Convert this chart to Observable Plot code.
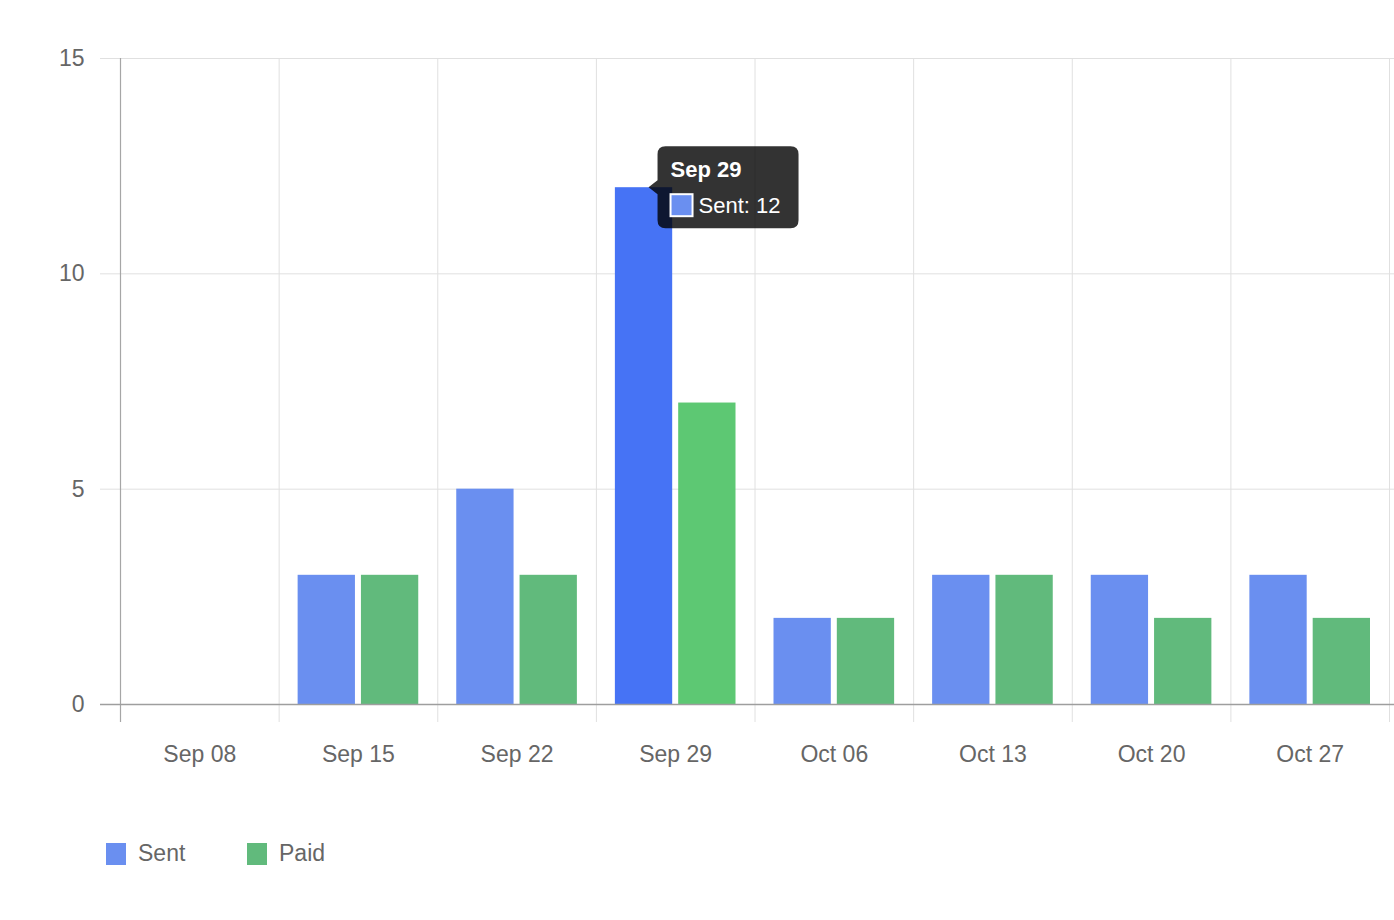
<!DOCTYPE html>
<html>
<head>
<meta charset="utf-8">
<script src="https://cdn.jsdelivr.net/npm/d3@7"></script>
<script src="https://cdn.jsdelivr.net/npm/@observablehq/plot@0.6"></script>
<style>
  html, body { margin: 0; padding: 0; background: #fff; }
  body { font-family: "Liberation Sans", Arial, Helvetica, sans-serif; }
  #legend { display: flex; padding-left: 106px; padding-top: 40px; font-size: 23px; color: #666; }
  .item { width: 141px; display: flex; align-items: center; }
  .sw { width: 20px; height: 22px; margin-right: 12px; }
</style>
</head>
<body>
<div id="chart"></div>
<div id="legend"></div>
<script>
const dates = ["Sep 08", "Sep 15", "Sep 22", "Sep 29", "Oct 06", "Oct 13", "Oct 20", "Oct 27"];
const sent = [0, 3, 5, 12, 2, 3, 3, 3];
const paid = [0, 3, 3, 7, 2, 3, 2, 2];
const yTicks = [0, 5, 10, 15];
const series = ["Sent", "Paid"];
const colors = {Sent: "#6A8FF0", Paid: "#61BA7C"};
const hoverColors = {Sent: "#4673F5", Paid: "#5DC873"};
const hovered = 3;

const rows = (vals) => dates.map((d, i) => ({i, date: d, value: vals[i]}));
const sentRows = rows(sent);
const paidRows = rows(paid);

const W = 1394, H = 800, ML = 120, MR = 5, MT = 58, MB = 96;
const band = (W - ML - MR) / dates.length;
const pad = 19, gap = 6;
const barW = (band - 2 * pad - gap) / 2;
const grid = "#e0e0e0";
const fontSize = 23;

const chart = Plot.plot({
  width: W, height: H,
  marginLeft: ML, marginRight: MR, marginTop: MT, marginBottom: MB,
  style: {fontFamily: '"Liberation Sans", Arial, Helvetica, sans-serif', fontSize: fontSize + "px", color: "#666", background: "#fff"},
  x: {type: "linear", domain: [0, dates.length], axis: null},
  y: {domain: [0, 15], axis: null},
  marks: [
    Plot.ruleY(yTicks.filter(d => d > 0), {y: d => d, stroke: grid, strokeWidth: 1, insetLeft: -20, insetRight: -5}),
    Plot.ruleX(d3.range(1, dates.length + 1), {x: d => d, stroke: grid, strokeWidth: 1, insetBottom: -18}),
    Plot.rectY(sentRows.filter(d => d.i !== hovered), {x1: d => d.i, x2: d => d.i + 1, y: "value", fill: colors.Sent, insetLeft: pad, insetRight: band - pad - barW}),
    Plot.rectY(sentRows.filter(d => d.i === hovered), {x1: d => d.i, x2: d => d.i + 1, y: "value", fill: hoverColors.Sent, insetLeft: pad, insetRight: band - pad - barW}),
    Plot.rectY(paidRows.filter(d => d.i !== hovered), {x1: d => d.i, x2: d => d.i + 1, y: "value", fill: colors.Paid, insetLeft: pad + barW + gap, insetRight: pad}),
    Plot.rectY(paidRows.filter(d => d.i === hovered), {x1: d => d.i, x2: d => d.i + 1, y: "value", fill: hoverColors.Paid, insetLeft: pad + barW + gap, insetRight: pad}),
    Plot.ruleX([0], {x: d => d, stroke: "#a6a6a6", strokeWidth: 1.2, insetBottom: -18}),
    Plot.ruleY([0], {y: d => d, stroke: "#9e9e9e", strokeWidth: 1.5, insetLeft: -20, insetRight: -5}),
    Plot.text(yTicks, {y: d => d, text: d => String(d), frameAnchor: "left", textAnchor: "end", dx: -36, fill: "#666", fontSize: fontSize}),
    Plot.text(dates, {x: (d, i) => i + 0.5, text: d => d, frameAnchor: "bottom", dy: 57, fill: "#666", fontSize: fontSize})
  ]
});
document.getElementById("chart").appendChild(chart);

// Tooltip anchored to the hovered Sent bar
const xs = chart.scale("x"), ys = chart.scale("y");
const ax = xs.apply(hovered) + pad + barW / 2 + 5;
const ay = ys.apply(sent[hovered]);
const bx = ax + 9, by = ay - 41, bw = 141, bh = 82, r = 8;
const svg = d3.select(chart);
const g = svg.append("g").attr("text-anchor", "start");
const path = `M${bx + r},${by} H${bx + bw - r} Q${bx + bw},${by} ${bx + bw},${by + r} V${by + bh - r} Q${bx + bw},${by + bh} ${bx + bw - r},${by + bh} H${bx + r} Q${bx},${by + bh} ${bx},${by + bh - r} V${ay + 7} L${ax},${ay} L${bx},${ay - 7} V${by + r} Q${bx},${by} ${bx + r},${by} Z`;
g.append("path").attr("d", path).attr("fill", "rgba(0,0,0,0.8)");
g.append("text").attr("x", bx + 13).attr("y", by + 31).attr("fill", "#fff").attr("font-weight", "bold").attr("font-size", 22).attr("text-anchor", "start").text(dates[hovered]);
g.append("rect").attr("x", bx + 13).attr("y", by + 48).attr("width", 22).attr("height", 22).attr("fill", colors.Sent).attr("stroke", "#fff").attr("stroke-width", 2);
g.append("text").attr("x", bx + 41).attr("y", by + 67).attr("fill", "#fff").attr("font-size", 22).attr("text-anchor", "start").text(`${series[0]}: ${sent[hovered]}`);

// Legend
const legend = d3.select("#legend");
series.forEach(s => {
  const it = legend.append("div").attr("class", "item");
  it.append("div").attr("class", "sw").style("background", colors[s]);
  it.append("span").text(s);
});
</script>
</body>
</html>
